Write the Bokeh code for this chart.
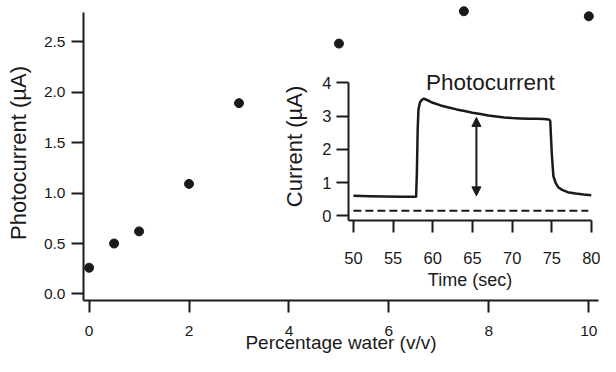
from bokeh.plotting import figure
from bokeh.models import Range1d, FixedTicker, Label, Arrow, NormalHead, PrintfTickFormatter
from bokeh.layouts import column
from bokeh.embed import file_html
from bokeh.resources import INLINE

# ---- main chart data ----
water_pct = [0, 0.5, 1, 2, 3, 5, 7.5, 10]
photocurrent_uA = [0.26, 0.50, 0.62, 1.09, 1.89, 2.48, 2.80, 2.75]
main_xticks = [0, 2, 4, 6, 8, 10]
main_yticks = [0.0, 0.5, 1.0, 1.5, 2.0, 2.5]

# ---- inset data ----
time_s = [50, 52, 54, 56, 57.9, 58.0, 58.1, 58.2, 58.4, 58.7, 58.9, 59.5, 60, 61, 62, 63, 64,
          65, 66, 67, 68, 69, 70, 71, 72, 73, 74, 74.6, 74.8, 75.0, 75.2, 75.5, 75.8, 76.3,
          77, 78, 79, 80]
current_uA = [0.60, 0.59, 0.58, 0.57, 0.57, 1.3, 2.6, 3.2, 3.42, 3.50, 3.52, 3.46, 3.40, 3.32,
              3.26, 3.20, 3.15, 3.10, 3.06, 3.02, 2.99, 2.96, 2.94, 2.93, 2.92, 2.92, 2.91, 2.90,
              2.86, 1.86, 1.19, 0.98, 0.86, 0.78, 0.71, 0.67, 0.64, 0.62]
dark_t = [50, 79.6]
dark_uA = [0.15, 0.15]
inset_xticks = [50, 55, 60, 65, 70, 75, 80]
inset_yticks = [0, 1, 2, 3, 4]
arrow_t = 65.5
arrow_lo = 0.60
arrow_hi = 2.96
inset_title = "Photocurrent"
title_t = 67.26
title_uA = 4.0

FONT = "Liberation Sans"
INK = "#1a1a1a"


def style_axes(fig, tick_size):
    for ax in (fig.xaxis[0], fig.yaxis[0]):
        ax.axis_line_color = INK
        ax.axis_line_width = 2
        ax.major_tick_line_color = INK
        ax.major_tick_line_width = 2
        ax.major_tick_in = 0
        ax.major_tick_out = 12
        ax.minor_tick_line_color = None
        ax.major_label_text_font = FONT
        ax.major_label_text_font_size = tick_size
        ax.major_label_text_color = INK
        ax.axis_label_text_font = FONT
        ax.axis_label_text_font_style = "normal"
        ax.axis_label_text_color = INK
    fig.xgrid.visible = False
    fig.ygrid.visible = False
    fig.outline_line_color = None


# ---- main figure: 600 x 356 outer ----
p = figure(frame_width=515, frame_height=295,
           x_range=Range1d(-0.112, 10.194), y_range=Range1d(-0.0644, 2.857),
           output_backend="svg", toolbar_location=None,
           min_border_left=83, min_border_right=2, min_border_top=5, min_border_bottom=56)
style_axes(p, "15.5px")
p.yaxis.bounds = (-0.0644, 2.79)
p.xaxis.ticker = FixedTicker(ticks=main_xticks)
p.yaxis.ticker = FixedTicker(ticks=main_yticks)
p.yaxis.formatter = PrintfTickFormatter(format="%.1f")
p.xaxis.major_label_standoff = 13
p.yaxis.major_label_standoff = 6
p.xaxis.axis_label = "Percentage water (v/v)"
p.yaxis.axis_label = "Photocurrent (µA)"
p.xaxis.axis_label_text_font_size = "19px"
p.yaxis.axis_label_text_font_size = "22px"
p.xaxis.axis_label_standoff = -7
p.yaxis.axis_label_standoff = 10
p.scatter(water_pct, photocurrent_uA, size=9, color=INK)

# ---- inset figure: 335 x 228 outer, overlaid on the main one ----
ins = figure(frame_width=243, frame_height=148,
             x_range=Range1d(49.384, 80.0), y_range=Range1d(-0.141, 4.31),
             output_backend="svg", toolbar_location=None,
             min_border_left=80, min_border_right=12, min_border_top=4, min_border_bottom=76,
             background_fill_color=None, border_fill_color=None,
             margin=(-288, 0, 0, 265))
style_axes(ins, "16.5px")
ins.yaxis.bounds = (-0.141, 4.0)
ins.xaxis.ticker = FixedTicker(ticks=inset_xticks)
ins.yaxis.ticker = FixedTicker(ticks=inset_yticks)
ins.xaxis.major_label_standoff = 19
ins.yaxis.major_label_standoff = 5
ins.xaxis.axis_label = "Time (sec)"
ins.yaxis.axis_label = "Current (µA)"
ins.xaxis.axis_label_text_font_size = "18px"
ins.yaxis.axis_label_text_font_size = "22px"
ins.xaxis.axis_label_standoff = 3
ins.yaxis.axis_label_standoff = 12

ins.line(dark_t, dark_uA, line_color=INK, line_width=2, line_dash="8 4")
ins.line(time_s, current_uA, line_color=INK, line_width=2.5)
ins.add_layout(Arrow(start=NormalHead(size=9, fill_color=INK, line_color=INK),
                     end=NormalHead(size=9, fill_color=INK, line_color=INK),
                     x_start=arrow_t, y_start=arrow_lo, x_end=arrow_t, y_end=arrow_hi,
                     line_color=INK, line_width=2))
ins.add_layout(Label(x=title_t, y=title_uA, text=inset_title, text_align="center",
                     text_baseline="middle", text_font=FONT, text_font_size="22.5px",
                     text_color=INK))

layout = column(p, ins)
open("out.html", "w").write(file_html(layout, INLINE))
